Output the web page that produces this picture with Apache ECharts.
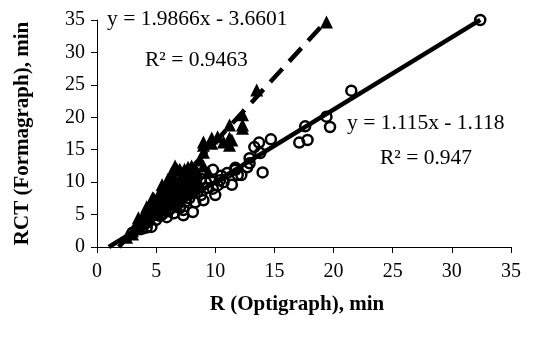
<!DOCTYPE html>
<html><head><meta charset="utf-8">
<script src="https://cdn.jsdelivr.net/npm/echarts@6/dist/echarts.min.js"></script>
<style>html,body{margin:0;padding:0;background:#fff}#c{width:534px;height:338px}</style>
</head><body><div id="c"></div>
<script>
// Formagraph RCT vs Optigraph R (triangles)
const triangles = [
[2.5,1.5],[3.0,2.0],[3.3,2.8],[3.6,3.5],[3.5,4.5],[4.0,5.3],[4.5,6.0],[4.8,7.5],[5.2,7.0],[5.6,6.5],
[6.2,7.0],[7.0,7.5],[7.6,8.5],[8.2,9.0],[8.6,10.0],[9.0,12.5],[5.5,9.6],[6.0,10.5],[6.3,11.4],[6.6,12.5],
[7.0,12.0],[7.4,12.0],[6.0,9.0],[5.8,8.0],[6.5,8.0],[7.0,9.5],[7.5,11.0],[8.0,12.5],[8.3,12.0],[7.8,11.5],
[3.0,2.5],[3.5,3.2],[3.8,4.0],[4.0,4.5],[4.2,5.5],[4.2,6.2],[4.5,5.0],[4.7,7.6],[4.8,6.5],[5.0,7.0],
[5.0,5.8],[5.2,8.0],[5.3,6.8],[5.5,8.5],[5.6,7.5],[5.8,9.0],[5.9,9.6],[6.0,8.2],[6.2,10.0],[6.3,7.8],
[6.5,9.5],[6.5,11.0],[6.8,11.9],[6.8,9.0],[7.0,10.5],[7.2,8.5],[7.3,11.5],[7.5,10.0],[7.7,12.3],[7.8,9.5],
[8.0,11.0],[8.2,10.0],[8.5,11.5],[8.7,13.4],[9.0,14.6],[9.0,15.7],[9.0,16.2],[9.4,11.6],[9.7,16.0],[9.7,16.8],
[10.2,17.0],[10.7,16.2],[11.2,18.8],[11.2,16.8],[11.2,15.7],[11.4,16.5],[12.3,18.3],[12.3,20.4],[12.3,18.8],
[13.5,24.2],[19.4,34.7]
];
// second method (circles)
const circles = [
[3.0,2.2],[3.8,2.8],[4.2,3.0],[5.0,5.0],[5.5,5.8],[6.2,6.8],[6.8,7.5],[7.2,8.5],[7.8,8.8],[8.3,9.5],
[8.8,10.5],[9.2,10.0],[9.8,9.0],[10.5,11.0],
[3.5,3.0],[4.0,3.5],[4.3,3.8],[4.6,3.1],[5.0,4.2],[5.3,4.8],[5.5,5.0],[5.9,4.6],[6.0,5.5],[6.3,6.0],
[6.5,5.2],[6.8,6.5],[7.0,6.0],[7.3,4.9],[7.3,5.7],[7.5,7.0],[7.8,7.5],[8.1,5.4],[8.3,6.9],[8.5,8.5],
[8.8,8.0],[9.0,7.2],[9.3,9.1],[9.6,10.3],[9.8,11.9],[10.0,8.0],[10.2,9.5],[10.4,10.3],[10.7,10.0],[11.0,11.4],
[11.4,9.6],[11.7,11.9],[11.7,12.2],[11.9,11.1],[12.2,11.1],[12.7,12.3],[12.9,12.9],[12.9,13.7],[13.3,15.4],[13.7,16.1],
[13.8,14.5],[14.0,11.5],[14.7,16.6],[17.1,16.1],[17.6,18.6],[17.8,16.5],[19.4,20.1],[19.7,18.5],[21.5,24.1],[32.4,35.0]
];
const fitTri = {slope:1.9866, intercept:-3.6601, xFrom:1.84, xTo:19.46};
const fitCir = {slope:1.115, intercept:-1.118, xFrom:1.0, xTo:32.4};
const xTicks = [0,5,10,15,20,25,30,35];
const yTicks = [0,5,10,15,20,25,30,35];

function fitLine(f){ return [[f.xFrom, f.slope*f.xFrom+f.intercept],[f.xTo, f.slope*f.xTo+f.intercept]]; }
const FONT = '"Liberation Serif","Times New Roman",serif';
const chart = echarts.init(document.getElementById('c'));
chart.setOption({
  animation:false,
  grid:{left:97,right:23,top:20,bottom:91},
  xAxis:{type:'value',min:xTicks[0],max:xTicks[xTicks.length-1],interval:5,
    name:'R (Optigraph), min',nameLocation:'middle',nameGap:47,
    nameTextStyle:{fontFamily:FONT,fontWeight:'bold',fontSize:21,color:'#000',padding:[0,14,0,0]},
    axisLine:{lineStyle:{color:'#000',width:1}},axisTick:{show:true,inside:false,length:6,lineStyle:{color:'#000'}},
    axisLabel:{fontFamily:FONT,fontSize:20,color:'#000',margin:15},splitLine:{show:false}},
  yAxis:{type:'value',min:yTicks[0],max:yTicks[yTicks.length-1],interval:5,
    name:'RCT (Formagraph), min',nameLocation:'middle',nameGap:64,
    nameTextStyle:{fontFamily:FONT,fontWeight:'bold',fontSize:21,color:'#000'},
    axisLine:{show:true,lineStyle:{color:'#000',width:1}},axisTick:{show:true,length:6,lineStyle:{color:'#000'}},
    axisLabel:{fontFamily:FONT,fontSize:20,color:'#000',margin:12},splitLine:{show:false}},
  series:[
    {type:'scatter',data:circles,symbol:'circle',symbolSize:10,clip:false,itemStyle:{color:'rgba(255,255,255,0)',borderColor:'#000',borderWidth:2.5,opacity:1}},
    {type:'scatter',data:triangles,symbol:'triangle',symbolSize:13,clip:false,itemStyle:{color:'#000',opacity:1}},
    {type:'line',data:fitLine(fitTri),symbol:'none',clip:false,lineStyle:{color:'#000',width:4.5,type:[18,10]}},
    {type:'line',data:fitLine(fitCir),symbol:'none',clip:false,lineStyle:{color:'#000',width:4.5}}
  ],
  graphic:[
    {type:'text',left:107,top:8,style:{text:'y = 1.9866x - 3.6601',font:'21.5px '+FONT,fill:'#000'}},
    {type:'text',left:145,top:49,style:{text:'R² = 0.9463',font:'21.5px '+FONT,fill:'#000'}},
    {type:'text',left:347,top:112,style:{text:'y = 1.115x - 1.118',font:'21.5px '+FONT,fill:'#000'}},
    {type:'text',left:380,top:147,style:{text:'R² = 0.947',font:'21.5px '+FONT,fill:'#000'}}
  ]
});
</script></body></html>
